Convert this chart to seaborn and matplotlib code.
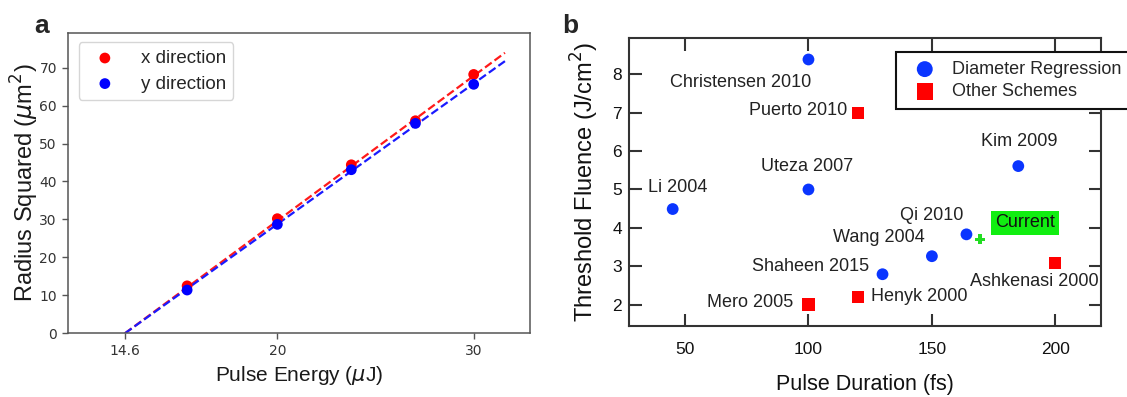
import matplotlib
matplotlib.use("Agg")
import matplotlib.pyplot as plt
import seaborn as sns
import numpy as np
from matplotlib.ticker import NullLocator, FixedLocator

# ---------------- data: panel a ----------------
energy = [16.6, 20.0, 23.3, 26.6, 30.0]
r2_x = [12.5, 30.2, 44.4, 56.0, 68.2]
r2_y = [11.4, 28.7, 43.1, 55.3, 65.6]
fit_energy = [14.6, 32.0]
fit_x = [0.0, 73.9]
fit_y = [0.0, 71.7]
a_xticks = [14.6, 20, 30]
a_xticklabels = ["14.6", "20", "30"]
a_yticks = [0, 10, 20, 30, 40, 50, 60, 70]

# ---------------- data: panel b ----------------
dr_names = ["Christensen 2010", "Li 2004", "Uteza 2007", "Kim 2009",
            "Qi 2010", "Wang 2004", "Shaheen 2015"]
dr_dur = [100, 45, 100, 185, 164, 150, 130]
dr_flu = [8.39, 4.49, 5.0, 5.61, 3.83, 3.26, 2.79]

os_names = ["Puerto 2010", "Mero 2005", "Henyk 2000", "Ashkenasi 2000"]
os_dur = [120, 100, 120, 200]
os_flu = [6.99, 2.0, 2.2, 3.09]

cur_dur = [169.5]
cur_flu = [3.70]

# label anchor positions (data coords) and alignment
lab_text = ["Christensen 2010", "Puerto 2010", "Li 2004", "Uteza 2007", "Kim 2009",
            "Qi 2010", "Wang 2004", "Shaheen 2015", "Mero 2005", "Henyk 2000",
            "Ashkenasi 2000"]
lab_x = [72.4, 115.7, 47.1, 99.3, 185.4, 149.8, 128.6, 124.4, 93.9, 125.4, 191.5]
lab_y = [7.80, 7.06, 5.04, 5.59, 6.25, 4.33, 3.74, 3.00, 2.04, 2.22, 2.59]
lab_ha = ["center", "right", "center", "center", "center", "center", "center",
          "right", "right", "left", "center"]
b_xticks = [50, 100, 150, 200]
b_yticks = [2, 3, 4, 5, 6, 7, 8]

# ---------------- style ----------------
sns.set_theme(style="white")
plt.rcParams["font.family"] = ["Liberation Sans", "DejaVu Sans"]
plt.rcParams["mathtext.fontset"] = "dejavusans"

W, H = 1127, 397
fig = plt.figure(figsize=(W / 100, H / 100), dpi=100)

def px_axes(l, t, r, b):
    return fig.add_axes([l / W, 1 - b / H, (r - l) / W, (b - t) / H])

# ================= panel a =================
axa = px_axes(68, 32.7, 530, 333.3)
sns.lineplot(x=fit_energy, y=fit_x, ax=axa, color="#ff1a1a", linestyle="--", lw=1.6, zorder=2)
sns.lineplot(x=fit_energy, y=fit_y, ax=axa, color="#1a1aff", linestyle="--", lw=1.6, zorder=2)
sns.scatterplot(x=energy, y=r2_x, ax=axa, color="#ff0000", s=60, edgecolor="none",
                label="x direction", zorder=3)
sns.scatterplot(x=energy, y=r2_y, ax=axa, color="#0000ff", s=60, edgecolor="none",
                label="y direction", zorder=4)
axa.set_xscale("log")
axa.set_xlim(12.98, 33.7)
axa.set_ylim(0, 79.2)
axa.xaxis.set_major_locator(FixedLocator(a_xticks))
axa.set_xticklabels(a_xticklabels)
axa.xaxis.set_minor_locator(NullLocator())
axa.set_yticks(a_yticks)
axa.tick_params(axis="both", which="major", direction="out", length=4, width=1,
                color="#555555", labelcolor="#333333", labelsize=10, pad=4,
                bottom=True, left=True)
for lab in axa.get_xticklabels() + axa.get_yticklabels():
    lab.set_fontfamily("DejaVu Sans")
for sp in axa.spines.values():
    sp.set_color("#555555")
    sp.set_linewidth(1.1)
axa.set_xlabel(r"Pulse Energy ($\mu$J)", fontsize=15, color="#1a1a1a", labelpad=4)
axa.set_ylabel(r"Radius Squared ($\mu$m$^2$)", fontsize=17, color="#1a1a1a", labelpad=-1)
lega = axa.legend(loc="upper left", bbox_to_anchor=(0.023, 0.968), borderaxespad=0,
                  fontsize=13.5, handletextpad=0.9, labelspacing=0.45,
                  frameon=True, framealpha=0.8, edgecolor="#cccccc")
lega.get_frame().set_linewidth(1.0)

# ================= panel b =================
axb = px_axes(629, 38, 1100.5, 326)
sns.scatterplot(x=dr_dur, y=dr_flu, ax=axb, color="#0a35ff", marker="o", s=72,
                edgecolor="none", label="Diameter Regression", zorder=3)
sns.scatterplot(x=os_dur, y=os_flu, ax=axb, color="#ff0000", marker="s", s=76,
                edgecolor="none", label="Other Schemes", zorder=3)
sns.scatterplot(x=cur_dur, y=cur_flu, ax=axb, color="#22dd22", marker="P", s=55,
                edgecolor="none", zorder=3, legend=False)
for t, x, y, ha in zip(lab_text, lab_x, lab_y, lab_ha):
    axb.text(x, y, t, ha=ha, va="center", fontsize=13, color="#222222")
axb.text(187.7, 4.13, "Current", ha="center", va="center", fontsize=13, color="#111111",
         bbox=dict(boxstyle="square,pad=0.2", facecolor="#11ee11", edgecolor="none"))
axb.set_xlim(27.3, 218.3)
axb.set_ylim(1.44, 8.95)
axb.set_xticks(b_xticks)
axb.set_yticks(b_yticks)
axb.tick_params(axis="both", direction="in", length=9, width=1.5, color="#333333",
                labelsize=12.5, labelcolor="#111111", top=True, right=True,
                bottom=True, left=True)
axb.tick_params(axis="x", pad=11.5)
axb.tick_params(axis="y", pad=5)
for sp in axb.spines.values():
    sp.set_color("#333333")
    sp.set_linewidth(1.5)
axb.set_xlabel("Pulse Duration (fs)", fontsize=15.5, color="#111111", labelpad=12)
axb.set_ylabel("Threshold Fluence (J/cm$^{2}$)", fontsize=17, color="#111111", labelpad=8)
legb = axb.legend(loc="upper left", bbox_to_anchor=(0.566, 0.952), borderaxespad=0,
                  fontsize=13, handlelength=2.2, handletextpad=0.4, labelspacing=0.3,
                  frameon=True, fancybox=False, framealpha=1, edgecolor="#111111",
                  borderpad=0.5, markerscale=1.35)
legb.get_frame().set_linewidth(1.5)

# panel letters
fig.text(34 / W, 1 - 33 / H, "a", fontsize=19, fontweight="bold", va="baseline")
fig.text(562 / W, 1 - 33 / H, "b", fontsize=19, fontweight="bold", va="baseline")

fig.savefig("out.png", dpi=100)
